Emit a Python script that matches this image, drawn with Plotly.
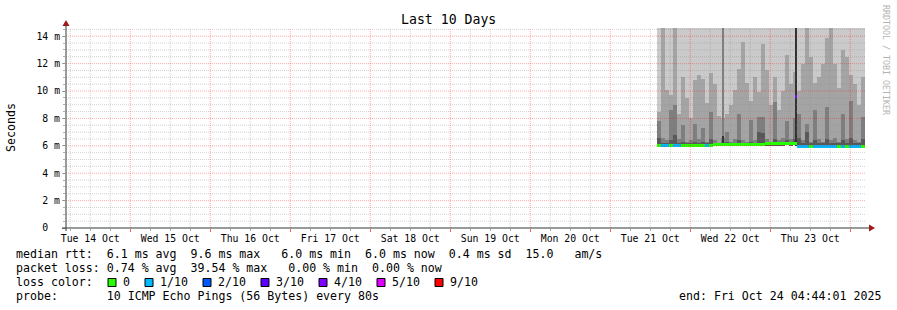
import plotly.graph_objects as go
import pandas as pd

# ---------------- data ----------------
x_start = "2025-10-14 04:44:01"
x_end = "2025-10-24 04:44:01"
col_start = "2025-10-21 14:06:00"
col_step_min = 72

ping_min = [5.94, 5.93, 5.95, 5.94, 5.92, 5.95, 5.94, 5.96, 5.95, 5.94,
            5.95, 5.96, 5.94, 5.95, 5.96, 5.97, 5.96, 5.98, 5.97, 5.98,
            5.98, 5.99, 5.98, 6.00, 5.99, 6.00, 6.01, 6.00, 6.01, 6.02,
            6.01, 6.02, 6.03, 6.02, 6.03, 5.88, 5.87, 5.88, 5.86, 5.87,
            5.86, 5.87, 5.88, 5.86, 5.87, 5.88, 5.87, 5.86, 5.87, 5.88,
            5.87, 5.86]
ping_max = [18.2, 21.5, 19.8, 24.0, 22.1, 17.9, 20.4, 19.1, 23.3, 18.7,
            20.9, 21.8, 19.4, 17.6, 22.7, 20.2, 18.9, 19.7, 21.1, 23.8,
            20.6, 18.4, 22.3, 19.9, 21.4, 20.8, 24.5, 19.2, 18.1, 22.9,
            20.1, 21.7, 19.5, 23.1, 25.6, 20.3, 18.8, 26.2, 22.4, 19.6,
            21.2, 20.7, 23.6, 27.1, 19.3, 18.6, 22.2, 24.8, 20.5, 21.9,
            19.0, 20.0]
ping_p9 = [8.5, 14.9, 10.1, 9.7, 15.2, 8.3, 11.0, 9.5, 8.0, 10.8,
           11.2, 10.9, 9.1, 11.3, 10.5, 8.2, 8.0, 8.3, 9.0, 10.1,
           11.6, 13.6, 10.6, 9.3, 11.0, 9.9, 13.4, 11.5, 9.0, 11.0,
           8.6, 10.0, 12.6, 10.5, 11.4, 10.0, 12.0, 15.5, 12.5, 10.6,
           11.0, 12.0, 13.9, 15.3, 12.0, 10.2, 13.0, 12.5, 11.2, 10.5,
           9.0, 11.0]
ping_p8 = [7.8, 6.6, 6.4, 8.6, 9.0, 6.5, 7.5, 6.3, 6.4, 7.6,
           6.5, 7.3, 6.3, 8.5, 6.4, 6.2, 6.6, 7.0, 6.3, 6.5,
           8.3, 6.4, 6.3, 7.9, 6.4, 8.1, 8.1, 6.5, 6.3, 9.2,
           6.4, 6.6, 7.8, 6.5, 8.0, 8.3, 6.4, 7.6, 6.3, 8.6,
           6.5, 6.3, 8.8, 6.4, 6.6, 6.3, 8.3, 6.5, 9.3, 6.4,
           6.3, 8.1]
ping_p7 = [6.6, 6.2, 6.2, 6.4, 6.8, 6.2, 6.3, 6.2, 6.2, 6.3,
           6.2, 6.3, 6.2, 6.5, 6.2, 6.2, 6.2, 6.3, 6.2, 6.2,
           6.4, 6.2, 6.2, 6.3, 6.2, 7.0, 6.9, 6.2, 6.2, 6.5,
           6.2, 6.2, 6.4, 6.2, 6.5, 6.6, 6.2, 7.0, 6.2, 6.4,
           6.2, 6.2, 6.5, 6.2, 6.2, 6.2, 6.4, 6.2, 6.6, 6.2,
           6.2, 6.5]
median_ms = [6.03, 6.02, 6.04, 6.03, 6.02, 6.04, 6.03, 6.05, 6.04, 6.03,
             6.04, 6.05, 6.04, 6.05, 6.06, 6.07, 6.08, 6.09, 6.09, 6.10,
             6.10, 6.11, 6.11, 6.12, 6.12, 6.13, 6.13, 6.14, 6.14, 6.15,
             6.15, 6.16, 6.16, 6.17, 6.17, 5.97, 5.96, 5.97, 5.95, 5.96,
             5.96, 5.97, 5.98, 5.97, 5.96, 5.97, 5.98, 5.97, 5.96, 5.97,
             5.98, 5.97]
loss_tenths = [0, 1, 1, 0, 1, 1, 0, 0, 0, 0, 0, 0, 1, 0,
               0, 0, 0, 0, 0, 0, 0, 0, 0, 0, 0, 0, 0, 0, 0, 0, 0, 0, 0, 0, 0,
               1, 1, 1, 0, 1, 1, 1, 1, 1, 1, 0, 1, 0, 1, 1, 1, 0]

spike_times = ["2025-10-22 09:54", "2025-10-23 07:48"]
spike_width_min = [18, 36]
spike_base = [6.0, 6.0]
spike_p8_top = [17.5, 6.0]
spike_p6_top = [6.7, 19.0]
spike_median = [9.6]
spike_median_time = ["2025-10-23 07:48"]
spike_loss = [4]

y_tick_vals = [0, 2, 4, 6, 8, 10, 12, 14]
y_tick_text = ["0\u00a0\u00a0", "2 m", "4 m", "6 m", "8 m", "10 m", "12 m", "14 m"]

loss_levels = [0, 1, 2, 3, 4, 5, 9]
loss_labels = ["0", "1/10", "2/10", "3/10", "4/10", "5/10", "9/10"]
loss_palette = ["#26ff00", "#00b8ff", "#0059ff", "#5e00ff", "#7e00ff", "#dd00ff", "#ff0000"]
smoke_colors = ["#cacaca", "#a4a4a4", "#7e7e7e", "#585858", "#323232"]

title_text = "Last 10 Days"
y_title = "Seconds"
legend_rtt = "median rtt:  6.1 ms avg  9.6 ms max   6.0 ms min  6.0 ms now  0.4 ms sd  15.0   am/s"
legend_loss = "packet loss: 0.74 % avg  39.54 % max   0.00 % min  0.00 % now"
legend_color = "loss color:"
probe_text = "probe:       10 ICMP Echo Pings (56 Bytes) every 80s"
end_text = "end: Fri Oct 24 04:44:01 2025"
watermark = "RRDTOOL / TOBI OETIKER"

# ---------------- geometry ----------------
W, H = 897, 310
L, R, T, B = 66, 866, 28, 228
MONO = "DejaVu Sans Mono"


def px(xp):
    return (xp - L) / (R - L)


def py(yp):
    return (B - yp) / (B - T)


def nb(s):
    return s.replace(" ", "\u00a0")


loss_map = dict(zip(loss_levels, loss_palette))

n = len(ping_min)
starts = pd.date_range(col_start, periods=n, freq=f"{col_step_min}min")
centers = starts + pd.Timedelta(minutes=col_step_min / 2)
col_w = col_step_min * 60 * 1000

fig = go.Figure()

bands = [ping_max, ping_p9, ping_p8, ping_p7]
for band, col in zip(bands, smoke_colors):
    fig.add_trace(go.Bar(
        x=centers, y=[t - b for t, b in zip(band, ping_min)], base=ping_min,
        width=col_w, marker=dict(color=col, line=dict(width=0)),
        hoverinfo="skip", showlegend=False))

# narrow spikes
sp_w = [m * 60 * 1000 for m in spike_width_min]
fig.add_trace(go.Bar(
    x=pd.to_datetime(spike_times), y=[t - b for t, b in zip(spike_p8_top, spike_base)],
    base=spike_base, width=sp_w, marker=dict(color=smoke_colors[2], line=dict(width=0)),
    hoverinfo="skip", showlegend=False))
fig.add_trace(go.Bar(
    x=pd.to_datetime(spike_times), y=[t - b for t, b in zip(spike_p6_top, spike_base)],
    base=spike_base, width=sp_w, marker=dict(color=smoke_colors[4], line=dict(width=0)),
    hoverinfo="skip", showlegend=False))

# median line coloured by loss
med_h = 0.22
fig.add_trace(go.Bar(
    x=centers, y=[med_h] * n, base=[m - med_h / 2 for m in median_ms],
    width=col_w, marker=dict(color=[loss_map[l] for l in loss_tenths], line=dict(width=0)),
    hoverinfo="skip", showlegend=False))
fig.add_trace(go.Bar(
    x=pd.to_datetime(spike_median_time), y=[med_h] * len(spike_median),
    base=[m - med_h / 2 for m in spike_median],
    width=[36 * 60 * 1000], marker=dict(color=[loss_map[l] for l in spike_loss], line=dict(width=0)),
    hoverinfo="skip", showlegend=False))

shapes = []
# grid drawn above the data, as rrdtool does
minor_col = "rgba(140,140,140,0.38)"
major_col = "rgba(255,0,0,0.33)"
days = pd.date_range("2025-10-15", "2025-10-24", freq="D")
six = pd.date_range("2025-10-14 06:00", "2025-10-24 00:00", freq="6h")
for t in six:
    if t.hour == 0:
        continue
    shapes.append(dict(type="line", xref="x", yref="paper", x0=t, x1=t, y0=0, y1=1,
                       line=dict(color=minor_col, width=1, dash="1px,1px"), layer="above"))
for k in range(1, 30):
    v = k * 0.5
    if v > 14.6 or v % 2 == 0:
        continue
    shapes.append(dict(type="line", xref="paper", yref="y", x0=0, x1=1, y0=v, y1=v,
                       line=dict(color=minor_col, width=1, dash="1px,1px"), layer="above"))
for t in days:
    shapes.append(dict(type="line", xref="x", yref="paper", x0=t, x1=t, y0=0, y1=1,
                       line=dict(color=major_col, width=1, dash="1px,1px"), layer="above"))
for v in y_tick_vals[1:]:
    shapes.append(dict(type="line", xref="paper", yref="y", x0=0, x1=1, y0=v, y1=v,
                       line=dict(color=major_col, width=1, dash="1px,1px"), layer="above"))

axis_col = "#333838"
arrow_col = "#a01818"
# axes
shapes.append(dict(type="line", xref="paper", yref="paper", x0=px(66), x1=px(66), y0=py(231), y1=py(24),
                   line=dict(color=axis_col, width=1), layer="above"))
shapes.append(dict(type="line", xref="paper", yref="paper", x0=px(62), x1=px(870), y0=py(228), y1=py(228),
                   line=dict(color=axis_col, width=1), layer="above"))
shapes.append(dict(type="path", xref="paper", yref="paper",
                   path=f"M {px(66)} {py(20)} L {px(62.5)} {py(26)} L {px(69.5)} {py(26)} Z",
                   fillcolor=arrow_col, line=dict(width=0), layer="above"))
shapes.append(dict(type="path", xref="paper", yref="paper",
                   path=f"M {px(875)} {py(228)} L {px(869)} {py(224.5)} L {px(869)} {py(231.5)} Z",
                   fillcolor=arrow_col, line=dict(width=0), layer="above"))

# loss colour boxes
box_left = [108, 145, 203, 261, 319, 377, 435]
for bx, col in zip(box_left, loss_palette):
    shapes.append(dict(type="rect", xref="paper", yref="paper",
                       x0=px(bx), x1=px(bx + 8), y0=py(286.5), y1=py(278.5),
                       fillcolor=col, line=dict(color="#000000", width=1)))

ann = []
lf = dict(family=MONO, size=11.6, color="#000000")
ann.append(dict(text=nb(title_text), x=px(448), y=py(19), xref="paper", yref="paper",
                xanchor="center", yanchor="middle", showarrow=False,
                font=dict(family=MONO, size=13.2, color="#000000")))
ann.append(dict(text=nb(y_title), x=px(11), y=py(127), xref="paper", yref="paper",
                xanchor="center", yanchor="middle", showarrow=False, textangle=-90,
                font=dict(family=MONO, size=11.6, color="#000000")))
ann.append(dict(text=nb(watermark), x=px(886), y=py(60), xref="paper", yref="paper",
                xanchor="center", yanchor="middle", showarrow=False, textangle=90,
                font=dict(family=MONO, size=8.3, color="#b4b4b4")))
for txt, yy in [(legend_rtt, 254), (legend_loss, 268), (legend_color, 282), (probe_text, 296)]:
    ann.append(dict(text=nb(txt), x=px(14), y=py(yy), xref="paper", yref="paper",
                    xanchor="left", yanchor="middle", showarrow=False, font=lf))
for bx, lab in zip(box_left, loss_labels):
    ann.append(dict(text=nb(lab), x=px(bx + 13), y=py(282), xref="paper", yref="paper",
                    xanchor="left", yanchor="middle", showarrow=False, font=lf))
ann.append(dict(text=nb(end_text), x=px(883), y=py(296), xref="paper", yref="paper",
                xanchor="right", yanchor="middle", showarrow=False, font=lf))

fig.update_layout(
    width=W, height=H, autosize=False,
    margin=dict(l=L, r=W - R, t=T, b=H - B, pad=0),
    paper_bgcolor="#ffffff", plot_bgcolor="#ffffff",
    barmode="overlay", bargap=0, showlegend=False,
    shapes=shapes, annotations=ann,
    xaxis=dict(type="date", range=[x_start, x_end], tick0="2025-10-14", dtick=86400000,
               tickformat="%a %d %b", ticklabelmode="period",
               ticks="outside", ticklen=3, tickcolor="rgba(255,0,0,0.6)",
               tickfont=dict(family=MONO, size=9.8, color="#000000"),
               ticklabelstandoff=-2,
               showgrid=False, zeroline=False, showline=False,
               minor=dict(dtick=6 * 3600000, ticks="outside", ticklen=2,
                          tickcolor="rgba(120,120,120,0.6)", showgrid=False)),
    yaxis=dict(range=[0, 14.6], tickvals=y_tick_vals, ticktext=y_tick_text,
               ticks="outside", ticklen=3, tickcolor="rgba(120,120,120,0.6)",
               tickfont=dict(family=MONO, size=9.8, color="#000000"),
               ticklabelstandoff=0,
               showgrid=False, zeroline=False, showline=False,
               minor=dict(dtick=0.5, ticks="outside", ticklen=2,
                          tickcolor="rgba(120,120,120,0.6)", showgrid=False)),
)

fig.write_html("out.html")
